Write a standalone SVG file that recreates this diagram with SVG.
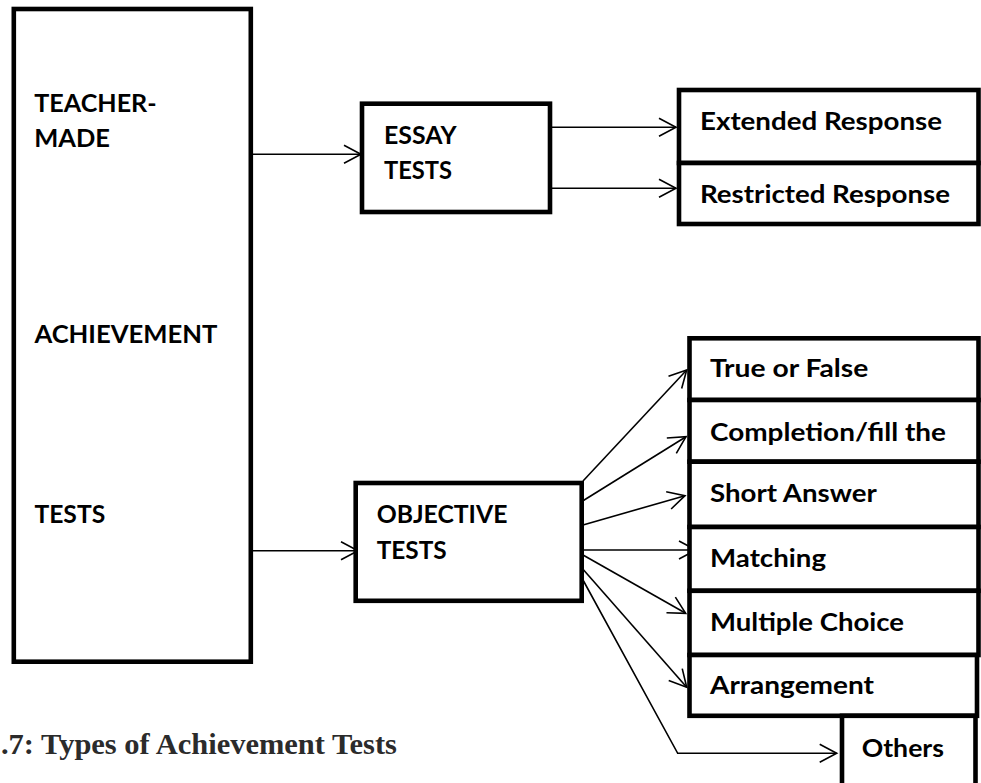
<svg xmlns="http://www.w3.org/2000/svg" width="981" height="783" viewBox="0 0 981 783">
<defs>
<style>
.box{fill:#fff;stroke:#000;stroke-width:4.6}
.lbl{font-family:Lato,"Liberation Sans",sans-serif;font-weight:700;font-size:25.5px;fill:#000}
.con{fill:none;stroke:#000;stroke-width:1.6}
.cap{font-family:"Liberation Serif","Times New Roman",serif;font-weight:700;font-size:30px;fill:#2b2b2b}
</style>
<marker id="ah" viewBox="-19 -11 21 22" markerWidth="21" markerHeight="22" refX="0" refY="0" orient="auto" markerUnits="userSpaceOnUse">
<path d="M-17,-9 L0,0 L-17,9" fill="none" stroke="#000" stroke-width="1.6"/>
</marker>
</defs>
<rect width="981" height="783" fill="#fff"/>

<g id="connectors">
<line class="con" x1="252" y1="154.3" x2="361" y2="154.3" marker-end="url(#ah)"/>
<line class="con" x1="552" y1="127.3" x2="676" y2="127.3" marker-end="url(#ah)"/>
<line class="con" x1="552" y1="188.3" x2="676" y2="188.3" marker-end="url(#ah)"/>
<line class="con" x1="252" y1="550.7" x2="358" y2="550.7" marker-end="url(#ah)"/>
<line class="con" x1="583" y1="481" x2="686.7" y2="370" marker-end="url(#ah)"/>
<line class="con" x1="583" y1="500.7" x2="686" y2="436.7" marker-end="url(#ah)"/>
<line class="con" x1="583" y1="525" x2="685" y2="495.7" marker-end="url(#ah)"/>
<line class="con" x1="583" y1="550" x2="696" y2="550" marker-end="url(#ah)"/>
<line class="con" x1="583" y1="555" x2="685.7" y2="613.3" marker-end="url(#ah)"/>
<line class="con" x1="583" y1="569.3" x2="686.7" y2="687.3" marker-end="url(#ah)"/>
<polyline class="con" points="583,580 677.7,753.3 836.7,753.3" marker-end="url(#ah)"/>
</g>

<g id="teacher-made">
<rect class="box" x="13.8" y="9" width="237" height="652.7"/>
<text class="lbl" x="34.3" y="111.7" textLength="122.3" lengthAdjust="spacingAndGlyphs">TEACHER-</text>
<text class="lbl" x="34.3" y="146.7" textLength="75.7" lengthAdjust="spacingAndGlyphs">MADE</text>
<text class="lbl" x="34.4" y="343" textLength="183" lengthAdjust="spacingAndGlyphs">ACHIEVEMENT</text>
<text class="lbl" x="34.4" y="523" textLength="70.8" lengthAdjust="spacingAndGlyphs">TESTS</text>
</g>

<g id="essay">
<rect class="box" x="362" y="103.7" width="188" height="108.3"/>
<text class="lbl" x="384" y="144" textLength="72.7" lengthAdjust="spacingAndGlyphs">ESSAY</text>
<text class="lbl" x="384" y="179" textLength="68" lengthAdjust="spacingAndGlyphs">TESTS</text>
</g>

<g id="extended">
<rect class="box" x="679" y="90" width="299.5" height="73"/>
<text class="lbl" x="700" y="130" textLength="242" lengthAdjust="spacingAndGlyphs">Extended Response</text>
</g>
<g id="restricted">
<rect class="box" x="679" y="163" width="299.5" height="61"/>
<text class="lbl" x="700" y="203.3" textLength="250" lengthAdjust="spacingAndGlyphs">Restricted Response</text>
</g>

<g id="objective">
<rect class="box" x="355.7" y="483" width="226" height="117.8"/>
<text class="lbl" x="376.7" y="522.7" textLength="130.7" lengthAdjust="spacingAndGlyphs">OBJECTIVE</text>
<text class="lbl" x="376.7" y="559.3" textLength="70" lengthAdjust="spacingAndGlyphs">TESTS</text>
</g>

<g id="true-false">
<rect class="box" x="689.5" y="338.3" width="289" height="61.7"/>
<text class="lbl" x="710" y="377.3" textLength="158.3" lengthAdjust="spacingAndGlyphs">True or False</text>
</g>
<g id="completion">
<rect class="box" x="689.5" y="400" width="289" height="61.7"/>
<text class="lbl" x="710" y="440.7" textLength="236" lengthAdjust="spacingAndGlyphs">Completion/fill the</text>
</g>
<g id="short-answer">
<rect class="box" x="689.5" y="461.7" width="289" height="65.3"/>
<text class="lbl" x="710" y="502.3" textLength="166.7" lengthAdjust="spacingAndGlyphs">Short Answer</text>
</g>
<g id="matching">
<rect class="box" x="689.5" y="527" width="289" height="63.8"/>
<text class="lbl" x="710" y="566.7" textLength="116" lengthAdjust="spacingAndGlyphs">Matching</text>
</g>
<g id="multiple-choice">
<rect class="box" x="689.5" y="590.8" width="289" height="64.2"/>
<text class="lbl" x="710" y="630.7" textLength="194" lengthAdjust="spacingAndGlyphs">Multiple Choice</text>
</g>
<g id="arrangement">
<rect class="box" x="689.5" y="655" width="287.5" height="60.8"/>
<text class="lbl" x="710" y="694" textLength="164" lengthAdjust="spacingAndGlyphs">Arrangement</text>
</g>
<g id="others">
<rect class="box" x="842" y="715.8" width="133.5" height="80"/>
<text class="lbl" x="861.7" y="757.3" textLength="82.3" lengthAdjust="spacingAndGlyphs">Others</text>
</g>

<text class="cap" x="1" y="754" textLength="396" lengthAdjust="spacingAndGlyphs">.7: Types of Achievement Tests</text>
</svg>
